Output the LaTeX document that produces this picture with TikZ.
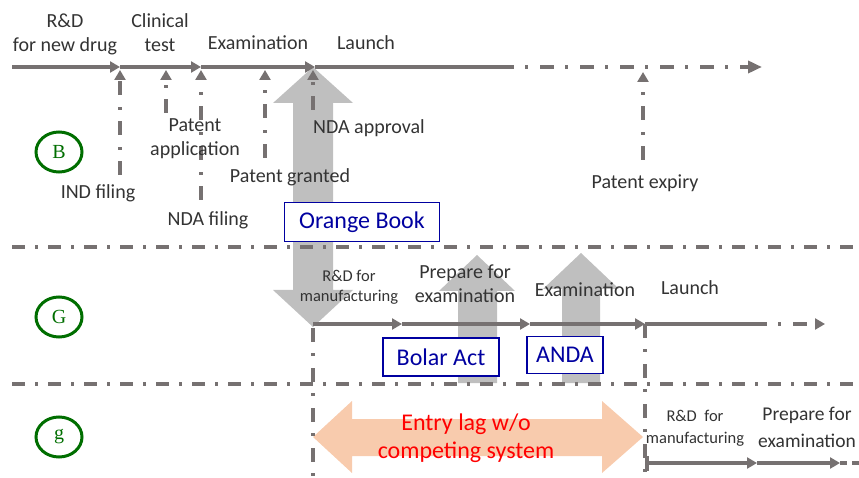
\documentclass[tikz,border=0pt]{standalone}
\usepackage{fontspec}
\setmainfont{Carlito}
\newfontfamily\tagfont{Liberation Serif}
\usetikzlibrary{arrows.meta, positioning, calc, shapes.geometric}

\definecolor{lineGray}{RGB}{118,113,113}
\definecolor{arrowGray}{RGB}{191,191,191}
\definecolor{lagOrange}{RGB}{248,203,173}
\definecolor{boxBlue}{RGB}{0,0,160}
\definecolor{tagGreen}{RGB}{0,110,0}

\begin{document}
\begin{tikzpicture}[x=1pt, y=-1pt,
    tline/.style={draw=lineGray, line width=3.8pt},
    tip/.style={-{Triangle[length=10pt,width=11pt]}},
    dashdot/.style={dash pattern=on 14pt off 11pt on 3pt off 12pt},
    sepline/.style={draw=lineGray, line width=3.8pt, dash pattern=on 13pt off 10pt on 3pt off 10pt},
    lbl/.style={font=\fontsize{20}{24}\selectfont, text=black!80, align=center, inner sep=0pt},
    lblsmall/.style={font=\fontsize{16.5}{20}\selectfont, text=black!80, align=center, inner sep=0pt},
    regbox/.style={draw=boxBlue, line width=1.5pt, fill=white, text=boxBlue, font=\fontsize{24}{26}\selectfont, inner sep=0pt},
    tag/.style={ellipse, draw=tagGreen, line width=3pt, minimum width=46pt, minimum height=40pt, inner sep=0pt, text=tagGreen, font=\fontsize{20}{22}\selectfont\tagfont}]
  \useasboundingbox (0,0) rectangle (859,478);

  % big block arrows
  \fill[arrowGray] (313,67) -- (353,103) -- (333,103) -- (333,290) -- (353,290) -- (313,327)
    -- (273,290) -- (293,290) -- (293,103) -- (273,103) -- cycle;
  \fill[arrowGray] (477,255) -- (515,291) -- (497,291) -- (497,383) -- (458,383) -- (458,291) -- (439,291) -- cycle;
  \fill[arrowGray] (581,253) -- (619,289) -- (600,289) -- (600,383) -- (562,383) -- (562,289) -- (543,289) -- cycle;
  \fill[lagOrange] (313,437) -- (352,401) -- (352,419) -- (602,419) -- (602,401) -- (643,437)
    -- (602,473) -- (602,456) -- (352,456) -- (352,473) -- cycle;

  % rows
  \coordinate (s1a) at (12,247);
  \coordinate (s1b) at (859,247);
  \coordinate (s2a) at (12,384);
  \coordinate (s2b) at (859,384);
  \draw[sepline] (s1a) -- (s1b);
  \draw[sepline] (s2a) -- (s2b);

  % brand timeline
  \coordinate (b0) at (12,67);
  \coordinate (b1) at (120,67);
  \coordinate (b2) at (201,67);
  \coordinate (b3) at (315,67);
  \coordinate (b4) at (500,67);
  \coordinate (b5) at (762,67);
  \draw[tline, tip] (b0) -- (b1);
  \draw[tline, tip] (b1) -- (b2);
  \draw[tline, tip] (b2) -- (b3);
  \draw[tline] (b3) -- (b4);
  \draw[tline, dashdot, -{Triangle[length=14pt,width=12pt]}] (b4) -- (b5);

  % events on the brand timeline
  \coordinate (indF) at (120,175);   \coordinate (indT) at (120,70);
  \coordinate (appF) at (166,113);   \coordinate (appT) at (166,70);
  \coordinate (ndafF) at (201,200);  \coordinate (ndafT) at (201,70);
  \coordinate (grantF) at (265,158); \coordinate (grantT) at (265,70);
  \coordinate (ndaaF) at (313,110);  \coordinate (ndaaT) at (313,70);
  \coordinate (expF) at (643,160);   \coordinate (expT) at (643,72);
  \foreach \e in {ind, app, ndaf, grant, ndaa, exp}
    \draw[tline, dashdot, tip] (\e F) -- (\e T);

  % generic timeline
  \coordinate (g0) at (313,324);
  \coordinate (g1) at (402,324);
  \coordinate (g2) at (530,324);
  \coordinate (g3) at (645,324);
  \coordinate (g4) at (753,324);
  \coordinate (g5) at (825,324);
  \draw[tline, tip] (g0) -- (g1);
  \draw[tline, tip] (g1) -- (g2);
  \draw[tline, tip] (g2) -- (g3);
  \draw[tline] (g3) -- (g4);
  \draw[tline, dashdot, tip] (g4) -- (g5);

  \coordinate (v1a) at (313,328);
  \coordinate (v1b) at (313,478);
  \coordinate (v2b) at (645,478);
  \draw[tline, dashdot] (v1a) -- (v1b);
  \draw[tline, dashdot] (g3) -- (v2b);

  % generic timeline without competing system
  \coordinate (h0) at (645,463);
  \coordinate (h1) at (757,463);
  \coordinate (h2) at (840,463);
  \coordinate (h3) at (859,463);
  \draw[tline, {Bar[width=15pt,length=0pt]}-{Triangle[length=10pt,width=11pt]}] (h0) -- (h1);
  \draw[tline, tip] (h1) -- (h2);
  \draw[tline] (h2) -- ++(7,0);
  \draw[tline] ($(h2)+(12,0)$) -- (h3);

  % labels, brand
  \node[lbl] (rdnew) at (65,34) {R\&D\\for new drug};
  \node[lbl] (clin) at (160,33) {Clinical\\test};
  \node[lbl] (exam) at (258,43) {Examination};
  \node[lbl] (launch) at (366,43) {Launch};
  \node[lbl] (patapp) at (195,139) {Patent\\application};
  \node[lbl] (ind) at (98,193) {IND filing};
  \node[lbl] (ndaf) at (208,220) {NDA filing};
  \node[lbl] (patg) at (290,177) {Patent granted};
  \node[lbl] (ndaa) at (369,128) {NDA approval};
  \node[lbl] (patx) at (645,183) {Patent expiry};
  \node[regbox, minimum width=155pt, minimum height=39pt] (orange) at (362,222) {Orange Book};

  % labels, generic
  \node[lblsmall] (rdman) at (349,287) {R\&D for\\manufacturing};
  \node[lbl] (prep) at (465,284) {Prepare for\\examination};
  \node[lbl] (examG) at (585,290) {Examination};
  \node[lbl] (launchG) at (690,288) {Launch};
  \node[regbox, minimum width=116pt, minimum height=38pt] (bolar) at (441,357) {Bolar Act};
  \node[regbox, minimum width=76pt, minimum height=37pt] (anda) at (565,355) {ANDA};

  % labels, lag
  \node[lbl, text=red, font=\fontsize{24}{28}\selectfont] (lag) at (466,438) {Entry lag w/o\\competing system};
  \node[lblsmall, font=\fontsize{16.5}{22}\selectfont] (rdman2) at (695,428) {R\&D~~for\\manufacturing};
  \node[lbl, font=\fontsize{19.5}{27}\selectfont] (prep2) at (807,427) {Prepare for\\examination};

  % row tags
  \node[tag] (tagB) at (59,152) {B};
  \node[tag] (tagG) at (59,317) {G};
  \node[tag] (tagg) at (59,437) {g};
\end{tikzpicture}
\end{document}
